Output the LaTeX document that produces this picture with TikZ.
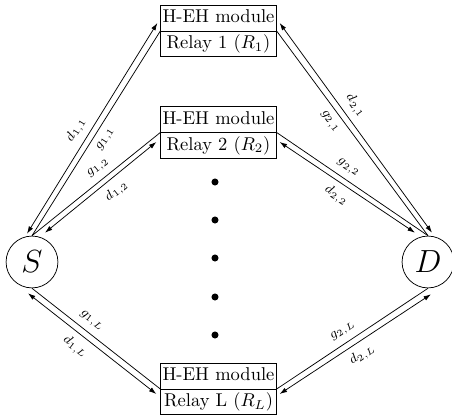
\documentclass[tikz,border=0pt]{standalone}
\usetikzlibrary{shapes.multipart,arrows.meta,calc}
\newcommand\relaystrut{\rule[-4.2pt]{0pt}{13.5pt}}
\begin{document}
\begin{tikzpicture}[x=0.54pt,y=-0.54pt,
  >={Latex[length=4pt,width=2.6pt]},
  term/.style={draw,circle,minimum size=28pt,inner sep=0pt,font=\LARGE},
  relay/.style={draw,rectangle split,rectangle split parts=2,inner xsep=1pt,inner ysep=0pt},
  dotnode/.style={fill,circle,minimum size=3.8pt,inner sep=0pt},
  lbl/.style={sloped,font=\scriptsize},
  glink/.style={},
  dlink/.style={<->}]
\useasboundingbox (0,0) rectangle (452,415);

\node[term] (S) at (32,262) {$S$};
\node[term] (D) at (428,262) {$D$};
\node[relay] (R1) at (218.5,31) {\relaystrut H-EH module\nodepart{two}\relaystrut Relay 1 ($R_1$)};
\node[relay] (R2) at (218.5,132.5) {\relaystrut H-EH module\nodepart{two}\relaystrut Relay 2 ($R_2$)};
\node[relay] (RL) at (218.5,389) {\relaystrut H-EH module\nodepart{two}\relaystrut Relay L ($R_L$)};

\node[dotnode] (v1) at (215,182) {};
\node[dotnode] (v2) at (215,220) {};
\node[dotnode] (v3) at (215,258) {};
\node[dotnode] (v4) at (215,297) {};
\node[dotnode] (v5) at (215,335) {};

% S -- R1
\draw[glink] (S.north) -- node[lbl,below,pos=.5]{$g_{1,1}$} (R1.west);
\draw[dlink] ($(S.north)+(-5,-2)$) -- node[lbl,above,pos=.46]{$d_{1,1}$} ($(R1.west)+(-3,-8)$);
% S -- R2
\draw[glink] (S.north) -- node[lbl,above,pos=.57]{$g_{1,2}$} (R2.west);
\draw[dlink] ($(S.north)+(13,-3)$) -- node[lbl,below,pos=.57]{$d_{1,2}$} ($(R2.west)+(-4,9.5)$);
% D -- R1
\draw[glink] (D.north) -- node[lbl,below,pos=.59]{$g_{2,1}$} (R1.east);
\draw[dlink] ($(D.north)+(4,-3)$) -- node[lbl,above,pos=.57]{$d_{2,1}$} ($(R1.east)+(3,-8)$);
% D -- R2
\draw[glink] (D.north) -- node[lbl,above,pos=.57]{$g_{2,2}$} (R2.east);
\draw[dlink] ($(D.north)+(-13,-3)$) -- node[lbl,below,pos=.53]{$d_{2,2}$} ($(R2.east)+(3,9.5)$);
% S -- RL
\draw[glink] (S.south) -- node[lbl,above,pos=.41]{$g_{1,L}$} (RL.west);
\draw[dlink] ($(S.south)+(-4,5)$) -- node[lbl,below,pos=.43]{$d_{1,L}$} ($(RL.west)+(-4,5)$);
% D -- RL
\draw[glink] (D.south) -- node[lbl,above,pos=.52]{$g_{2,L}$} (RL.east);
\draw[dlink] ($(D.south)+(3,6)$) -- node[lbl,below,pos=.5]{$d_{2,L}$} ($(RL.east)+(3,5)$);
\end{tikzpicture}
\end{document}
